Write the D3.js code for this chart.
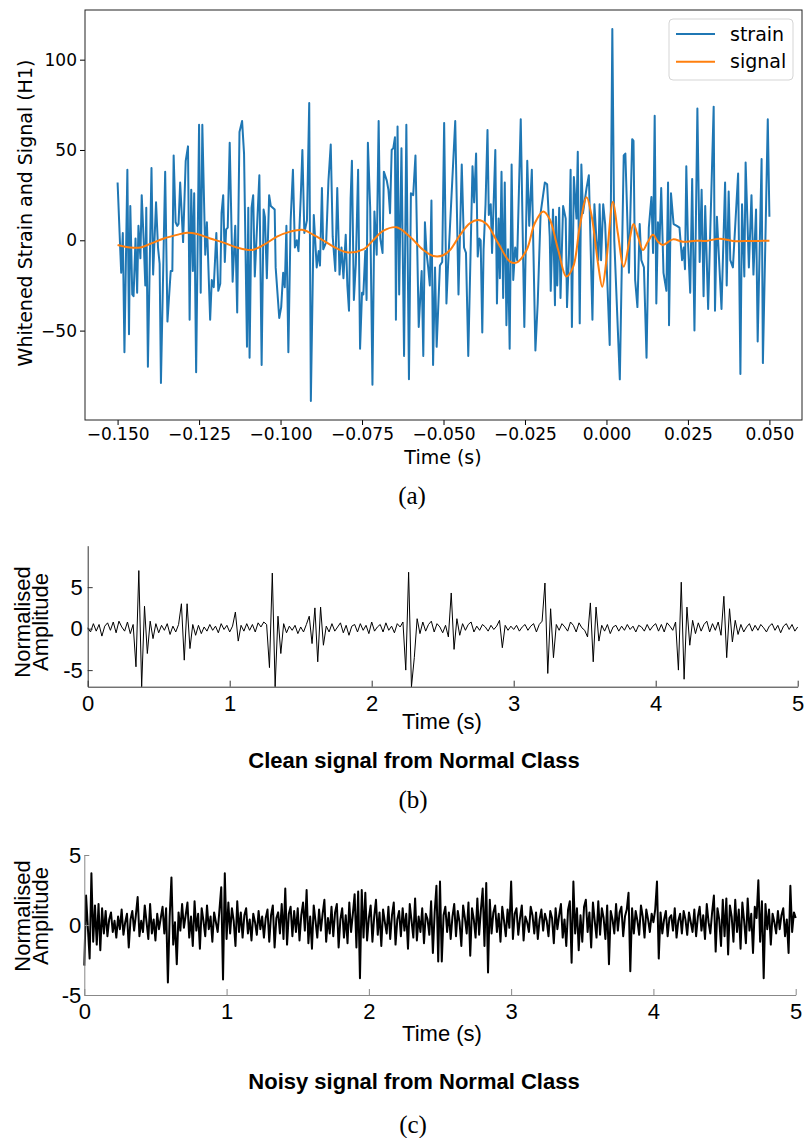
<!DOCTYPE html>
<html>
<head>
<meta charset="utf-8">
<script src="https://cdn.jsdelivr.net/npm/d3@7"></script>
<style>
  body { margin: 0; background: #fff; }
  svg { display: block; }
</style>
</head>
<body>
<svg id="fig" width="804" height="1138"></svg>
<script>
// ---- panel (a): whitened strain around the event (time in ms) ----
const strainMs = [
  -150.0,-148.9,-148.4,-147.9,-147.0,-146.5,-146.1,-145.5,-145.1,-144.5,-144.0,-143.6,-143.0,-142.6,-142.0,-141.5,-141.2,-140.7,
  -139.6,-139.1,-138.2,-137.6,-137.1,-136.7,-135.4,-134.7,-133.7,-133.2,-132.8,-132.2,-131.7,-131.3,-130.8,-129.9,-129.1,-128.4,
  -127.9,-127.4,-126.9,-126.5,-125.9,-125.0,-124.5,-124.0,-123.1,-122.6,-121.6,-121.1,-120.5,-119.7,-119.1,-118.5,-118.1,-117.6,
  -117.1,-116.7,-116.2,-115.6,-114.7,-113.9,-113.3,-112.6,-111.8,-111.2,-110.3,-109.9,-109.5,-108.9,-108.4,-107.9,-107.3,-106.5,
  -105.8,-105.2,-104.8,-104.2,-103.5,-103.0,-102.4,-101.8,-101.5,-100.4,-99.8,-99.2,-98.7,-98.2,-97.6,-96.9,-96.2,-95.6,-95.0,
  -94.5,-93.8,-93.3,-92.7,-91.9,-91.2,-90.7,-89.8,-88.9,-88.3,-87.9,-87.3,-86.9,-86.0,-85.3,-84.6,-84.0,-83.2,-82.6,-81.9,-81.3,
  -80.7,-80.0,-79.5,-79.0,-78.5,-78.1,-77.5,-76.9,-76.2,-75.6,-75.0,-74.6,-74.0,-73.6,-73.2,-72.5,-71.8,-71.2,-70.5,-69.9,-69.4,
  -68.7,-68.3,-67.4,-66.9,-66.4,-65.9,-65.4,-64.9,-64.6,-64.1,-63.6,-62.9,-62.1,-61.4,-60.6,-60.0,-59.3,-58.6,-57.6,-56.7,-56.2,
  -55.7,-55.2,-54.7,-54.2,-53.7,-53.2,-52.6,-52.1,-51.1,-50.4,-49.8,-49.1,-48.6,
  -46.4,-45.4,-44.4,-43.7,-43.1,-42.4,-41.1,-40.6,-40.0,-39.5,-39.0,-38.6,-38.1,-37.7,-37.1,-36.5,-36.1,-35.5,-35.1,-34.1,-33.6,
  -33.1,-32.7,-32.2,-31.7,-31.2,-30.7,-30.2,-29.7,-29.1,-28.6,-28.0,-27.4,-26.3,-25.2,-24.3,-23.7,-22.9,-21.8,-21.1,-20.2,-18.9,
  -18.2,-17.4,-17.1,-16.4,-15.8,-15.5,-15.1,-14.5,-14.1,-13.3,-12.5,-12.1,-11.5,-11.0,-10.6,-10.0,-9.2,-8.8,-8.2,-7.7,-7.2,-6.1,
  -5.4,-4.3,-3.7,-3.1,-2.5,-2.1,-1.65,-1.0,-0.4,1.0,1.8,2.4,4.1,5.3,5.8,6.9,7.9,8.3,8.8,9.5,10.2,10.7,11.5,12.3,13.0,13.8,14.3,
  14.8,15.3,15.8,16.3,16.8,17.5,18.4,18.9,19.2,19.8,20.6,21.6,22.4,23.2,23.7,24.1,24.5,25.0,25.7,26.3,27.0,27.9,28.6,29.2,29.8,
  30.3,31.2,32.9,33.3,33.9,35.3,36.4,36.9,37.5,38.0,38.8,40.4,41.1,41.6,42.3,42.7,43.7,44.5,45.1,45.9,46.4,47.6,48.0,48.7,49.5,50.0
];
const strainVal = [
  32,-18,4,-62,39,-52,19,-30,-31,1,-29,8,-10,25,0,-25,18,-70,
  40,-19,21,-4,-13,-79,38,-45,-17,-17,47,10,8,9,32,-1,44,52,
  -44,28,-17,26,-73,64,-29,64,-8,10,-44,-22,-26,4,-28,-24,15,25,
  -12,6,7,54,-23,8,-40,60,66,48,-59,18,-65,18,25,-20,4,36,
  -69,17,13,-21,25,19,18,17,-15,-43,-37,-18,-26,8,-62,11,39,-4,0,
  -6,24,50,4,11,76,-89,14,-15,-6,-14,29,-5,-1,33,53,2,-17,29,-19,-4,
  -21,3,-25,-39,23,44,-33,-13,39,-60,-29,-30,-6,-33,54,18,-80,16,-8,66,1,
  -7,38,33,28,15,50,51,57,-44,63,-30,51,-64,64,-77,26,25,47,-48,-17,-64,
  10,-7,-15,-25,22,-69,-15,-59,-14,-12,65,-35,-14,
  66,-30,42,-4,-7,-64,41,21,48,-9,1,0,-51,-5,20,61,14,20,-7,50,-35,
  12,-21,38,-32,32,-47,-5,-60,42,-22,-4,-11,67,-48,44,8,39,-61,-35,15,32,
  31,2,-28,17,-36,13,-25,18,-32,19,12,-37,-8,39,-48,35,12,49,-46,42,15,29,
  36,-44,20,1,-11,20,-11,20,9,-58,117,0,-77,47,48,-18,56,55,-22,-37,9,-11,-15,-65,7,24,-7,
  69,-35,10,-1,29,-18,-28,32,-47,26,9,8,7,-11,-4,-16,41,0,-29,34,-50,73,-12,28,-31,
  19,-38,74,-39,13,-38,32,-25,27,-11,-15,37,-74,20,-20,43,-15,25,-19,17,-56,45,-68,-6,67,13
];
// template signal (ms, value)
const signalMs = [
  -150,-146.1,-143,-140,-135.8,-131.8,-128.7,-125.6,-121.6,-117.5,-113.4,-108.8,-105.2,-101.1,-97,-93,-89.9,-86.8,
  -83.8,-79.7,-74.6,-71.5,-68.4,-64.4,-60.3,-56.2,-53.1,-50.1,-48.0,-44.9,-41.9,-39.3,-36.8,-33.2,-29.6,-27.6,-24.5,
  -22.0,-19.4,-17.4,-14.8,-12.3,-10.2,-8.2,-6.1,-4.6,-2.6,-1.3,0,2.0,3.5,5.3,7.1,8.3,9.7,11.2,12.7,14.3,15.8,17.3,
  20.4,23.5,27.5,30.6,34.7,38.8,43.9,50
];
const signalVal = [
  -2.6,-4,-4,-2,1,3,4.2,3.5,1,-1.3,-4,-5.4,-2.6,2,4.8,5.7,3,-0.2,
  -3.5,-6.6,-5,0.2,5.3,7.2,2,-5.4,-8.7,-8.3,-5.4,3,9.4,11.2,9,-1.7,-11.8,-12.4,-5.4,
  9.4,15.9,11.6,-5.4,-20,-14.6,7.5,23.8,14,-12.7,-25.7,-10.9,21.4,3.9,-14.6,0.2,9,2,-5.4,-0.8,3,-0.8,-2.6,
  0.5,-0.8,-0.2,-0.4,0.9,-0.4,-0.4,-0.2
];
const aTicksX = [-0.15, -0.125, -0.1, -0.075, -0.05, -0.025, 0, 0.025, 0.05];
const aTicksY = [-50, 0, 50, 100];
const legendNames = ["strain", "signal"];
const legendColors = ["#1f77b4", "#ff7f0e"];

// ---- panel (b): clean signal, 251 samples over 0..5 s ----
const cleanVal = [
  0.1,-0.4,0.6,-0.3,0.5,-0.9,0.3,0.7,-0.2,0.8,-0.5,0.9,0.2,-0.3,0.8,-0.6,0.5,-4.6,7.0,-7.0,
  2.7,-3.0,0.9,-1.2,0.6,-0.5,0.4,-0.2,0.6,-0.7,0.3,-0.4,0.5,3.0,-3.8,3.0,-2.4,0.5,-0.8,0.4,
  -0.6,0.2,-0.3,0.5,-0.2,0.3,-0.5,0.6,-0.1,0.4,-0.4,0.3,2.0,-1.5,0.4,-0.3,0.6,-0.2,0.5,-0.4,
  0.7,0.2,0.8,0.5,-4.7,6.7,-7.0,1.5,-3.0,0.6,-0.5,0.3,-0.2,0.4,-0.6,0.2,-0.4,0.5,1.5,-1.8,
  2.5,-4.0,2.6,-2.0,0.3,-0.4,0.6,-0.3,0.2,0.7,-0.5,0.4,-0.8,0.3,0.5,-0.4,0.6,-0.2,0.4,-0.6,
  0.8,-0.3,0.2,0.5,-0.4,0.7,-0.2,0.3,-0.5,0.6,0.2,0.8,-5.0,6.8,-7.0,-3.5,1.2,-0.6,0.8,-0.3,
  0.5,0.9,-0.4,0.6,0.2,-0.5,0.4,-1.0,4.3,-2.5,1.2,-0.8,0.6,-0.2,0.5,0.8,-0.4,0.3,-0.2,0.5,
  0.2,-0.3,0.4,-0.1,0.3,1.0,-2.3,0.4,-0.2,0.3,-0.1,0.4,-0.3,0.2,0.5,-0.2,0.3,0.6,-0.4,0.5,
  0.9,5.5,-5.4,2.4,-3.5,0.5,-0.2,0.6,0.2,-0.3,0.8,0.4,-0.4,0.7,0.1,-0.2,-1.0,3.1,-4.0,2.6,
  -1.5,0.4,-0.3,0.5,-0.6,0.2,0.4,-0.3,0.3,-0.2,0.5,-0.1,0.3,-0.4,0.4,0.2,-0.3,0.5,-0.2,0.3,
  0.6,-0.3,0.5,-0.4,0.7,0.3,-0.2,0.8,-5.0,5.6,-6.1,2.6,-2.0,1.0,-0.6,0.7,-0.3,0.5,0.9,-0.4,
  0.6,-0.2,0.8,-0.8,3.9,-3.5,2.4,-1.6,1.0,-0.7,0.5,-0.4,0.2,0.6,-0.3,0.4,-0.2,0.5,0.1,-0.4,
  0.3,0.6,-0.2,0.4,-0.5,0.3,0.6,-0.1,0.5,-0.3,0.2
];

// ---- panel (c): noisy signal, 401 samples over 0..5 s ----
const noisyVal = [
  -2.9,2.1,-0.2,-2.4,3.7,-1.2,1.4,-1.4,1.5,-1.8,1.2,-0.6,1.0,-0.8,0.4,0.9,-0.5,0.3,-0.9,0.6,
  -0.3,1.1,-0.7,0.2,0.8,-1.6,0.4,1.0,-0.4,0.7,2.0,-0.8,0.3,-0.5,1.4,0.2,-1.0,1.5,-0.6,0.4,
  -1.1,0.8,-0.3,0.5,1.3,-0.6,1.2,-4.1,0.6,3.4,-1.4,0.2,-2.8,0.9,-0.4,1.5,-0.2,0.7,1.6,-0.9,
  0.6,-1.5,1.7,-0.4,0.8,-1.7,1.2,0.3,-0.8,1.4,-0.3,0.6,-1.2,0.9,0.2,-0.5,1.1,2.7,-3.9,3.7,
  -1.0,1.6,-0.6,1.2,0.3,-1.5,1.7,-0.5,0.9,-0.9,0.7,1.2,-0.6,0.4,-1.1,0.8,0.2,-0.7,1.0,-0.3,
  0.6,-0.9,0.5,1.1,-1.2,0.7,1.4,-1.6,0.5,0.9,-0.6,1.5,-1.0,2.6,-1.4,0.8,1.3,-0.8,1.0,-0.5,
  1.2,-1.1,0.7,1.6,-0.4,2.5,-1.3,0.6,-1.7,1.4,0.3,-0.9,1.1,-0.4,0.8,1.8,-1.2,0.5,-0.6,1.3,
  -0.8,0.9,1.5,-1.6,0.4,1.2,-0.9,0.7,-1.3,1.6,-0.5,0.8,2.2,-1.6,2.4,-3.8,2.5,-0.9,2.3,-1.1,
  0.5,1.4,-1.2,0.6,1.8,-0.7,0.9,-1.5,1.1,0.2,-0.6,1.3,-1.0,0.7,1.6,-1.4,0.4,1.0,-0.8,1.2,
  -0.4,0.8,-1.7,1.5,0.3,-0.9,1.9,-1.1,0.6,-0.5,1.2,-1.3,0.8,0.4,-0.7,1.7,-2.0,0.9,2.8,-2.6,
  3.1,-2.6,0.7,1.3,-0.5,0.9,-1.0,0.6,1.5,-0.8,1.0,0.2,-1.5,1.4,0.5,-0.6,1.6,-2.2,1.2,0.4,
  -0.9,1.9,-0.7,1.1,2.6,-1.5,3.0,-3.4,1.8,-0.6,0.9,1.4,-0.5,0.8,-1.2,1.3,0.3,-0.8,1.1,-0.2,
  3.1,-1.0,0.8,1.2,-0.7,0.5,1.4,-1.1,0.6,0.2,-0.5,1.3,0.7,-0.6,0.9,-1.0,0.4,1.1,-0.4,0.8,
  0.3,-0.8,1.0,0.5,-1.3,1.2,-0.3,0.7,1.5,-0.9,0.4,-1.5,1.1,1.7,-2.7,3.1,-0.6,1.2,-1.8,0.7,
  -1.2,1.3,1.8,-0.5,0.9,-1.6,1.6,0.3,-0.9,1.7,-0.7,1.2,0.5,-1.0,1.4,-2.8,1.0,0.4,-0.6,1.5,
  -0.4,0.9,1.3,-0.8,0.6,1.1,2.3,-3.3,1.2,-0.6,1.0,0.3,-0.7,1.4,0.6,-0.9,1.1,0.4,-0.5,0.8,
  0.2,1.1,3.1,-2.4,0.9,-0.6,0.4,1.0,-0.8,0.5,0.7,-0.4,1.2,-0.9,0.3,0.8,-0.6,1.0,0.4,-0.7,
  0.9,0.2,-0.5,1.1,-0.8,0.6,1.3,-0.4,0.7,-1.0,1.5,0.2,-0.6,0.9,2.1,-1.9,1.2,0.4,-1.5,1.8,
  -0.8,1.9,-2.1,1.4,0.6,-1.2,1.8,-0.5,1.1,-1.7,1.6,0.3,-1.3,1.9,-0.4,0.8,-2.0,1.3,0.5,3.2,
  -1.2,1.7,-3.8,1.5,-0.3,1.1,-1.4,0.8,0.2,-0.6,1.0,-0.3,0.7,1.2,-0.8,0.4,-2.0,2.8,-0.5,0.9,
  0.5
];
const timeTicks = [0, 1, 2, 3, 4, 5];

const svg = d3.select("#fig");
svg.append("rect").attr("width", 804).attr("height", 1138).attr("fill", "#fff");

// ================= panel (a) =================
const xA = d3.scaleLinear().domain([-0.16, 0.06]).range([85, 802]);
const yA = d3.scaleLinear().domain([-99.5, 127.5]).range([420, 10]);
const gA = svg.append("g").attr("font-family", "DejaVu Sans");

const lineStrain = d3.line().x((d, i) => xA(strainMs[i] / 1000)).y(d => yA(d));
gA.append("path").datum(strainVal)
  .attr("d", lineStrain)
  .attr("fill", "none").attr("stroke", legendColors[0]).attr("stroke-width", 2).attr("stroke-linejoin", "round");

const lineSignal = d3.line().curve(d3.curveCatmullRom.alpha(0.5))
  .x((d, i) => xA(signalMs[i] / 1000)).y(d => yA(d));
gA.append("path").datum(signalVal)
  .attr("d", lineSignal)
  .attr("fill", "none").attr("stroke", legendColors[1]).attr("stroke-width", 2);

const axA = gA.append("g").attr("transform", "translate(0,420)")
  .call(d3.axisBottom(xA).tickValues(aTicksX).tickFormat(d3.format(".3f")).tickSize(5).tickPadding(3).tickSizeOuter(0));
const ayA = gA.append("g").attr("transform", "translate(85,0)")
  .call(d3.axisLeft(yA).tickValues(aTicksY).tickFormat(d3.format("d")).tickSize(5).tickPadding(3).tickSizeOuter(0));
[axA, ayA].forEach(ax => {
  ax.select(".domain").remove();
  ax.selectAll("text").attr("font-size", 17).attr("font-family", "DejaVu Sans").attr("fill", "#000");
  ax.selectAll("line").attr("stroke", "#000");
});

gA.append("rect").attr("x", 85).attr("y", 10).attr("width", 717).attr("height", 410)
  .attr("fill", "none").attr("stroke", "#222").attr("stroke-width", 1);

gA.append("text").attr("x", 443).attr("y", 464).attr("text-anchor", "middle")
  .attr("font-size", 19).text("Time (s)");
gA.append("text").attr("transform", "translate(32,213) rotate(-90)").attr("text-anchor", "middle")
  .attr("font-size", 19).text("Whitened Strain and Signal (H1)");

// legend
const leg = gA.append("g");
leg.append("rect").attr("x", 669).attr("y", 19).attr("width", 124).attr("height", 61).attr("rx", 4)
  .attr("fill", "#fff").attr("fill-opacity", 0.8).attr("stroke", "#d5d5d5");
legendNames.forEach((name, i) => {
  const ly = 34 + i * 27.7;
  leg.append("line").attr("x1", 676).attr("x2", 715).attr("y1", ly).attr("y2", ly)
    .attr("stroke", legendColors[i]).attr("stroke-width", 2);
  leg.append("text").attr("x", 730).attr("y", ly + 6.5).attr("font-size", 19).text(name);
});

svg.append("text").attr("x", 412).attr("y", 504).attr("text-anchor", "middle")
  .attr("font-family", "Liberation Serif").attr("font-size", 25).text("(a)");

// ================= panels (b) and (c) =================
function drawSignal(opts) {
  const g = svg.append("g").attr("font-family", "Liberation Sans");
  const x = d3.scaleLinear().domain([0, 5]).range([opts.left, opts.right]);
  const y = d3.scaleLinear().domain(opts.yDomain).range([opts.bottom, opts.top]);
  const n = opts.values.length;
  const line = d3.line().x((d, i) => x(i * 5 / (n - 1))).y(d => y(d));
  g.append("path").datum(opts.values).attr("d", line)
    .attr("fill", "none").attr("stroke", "#000").attr("stroke-width", opts.lw).attr("stroke-linejoin", "round");

  const ax = g.append("g").attr("transform", `translate(0,${opts.bottom})`)
    .call(d3.axisBottom(x).tickValues(timeTicks).tickFormat(d => String(d)).tickSize(-6).tickPadding(opts.xPad).tickSizeOuter(0));
  const ay = g.append("g").attr("transform", `translate(${opts.left},0)`)
    .call(d3.axisLeft(y).tickValues([-5, 0, 5]).tickFormat(d => String(d)).tickSize(-5).tickPadding(opts.yPad).tickSizeOuter(0));
  [ax, ay].forEach(a => {
    a.select(".domain").attr("stroke", opts.axisColor);
    a.selectAll("line").attr("stroke", opts.axisColor);
    a.selectAll("text").attr("font-size", 22).attr("font-family", "Liberation Sans").attr("fill", "#000");
  });

  const lab = g.append("text").attr("transform", `translate(0,${opts.labelY}) rotate(-90)`)
    .attr("text-anchor", "middle").attr("font-size", 22);
  lab.append("tspan").attr("x", 0).attr("y", 30).text("Normalised");
  lab.append("tspan").attr("x", 0).attr("y", 47.5).text("Amplitude");

  g.append("text").attr("x", 442).attr("y", opts.timeY).attr("text-anchor", "middle")
    .attr("font-size", 22).text("Time (s)");
  g.append("text").attr("x", 414).attr("y", opts.titleY).attr("text-anchor", "middle")
    .attr("font-size", 22).attr("font-weight", "bold").text(opts.title);
  svg.append("text").attr("x", 413).attr("y", opts.capY).attr("text-anchor", "middle")
    .attr("font-family", "Liberation Serif").attr("font-size", 25).text(opts.caption);
}

drawSignal({
  values: cleanVal, left: 87.7, right: 797.7, top: 545.7, bottom: 686.7, yDomain: [-7, 10],
  lw: 1, axisColor: "#333", xPad: 9, yPad: 5, labelY: 622,
  timeY: 729, titleY: 768, capY: 808,
  title: "Clean signal from Normal Class", caption: "(b)"
});
drawSignal({
  values: noisyVal, left: 84.3, right: 795.7, top: 855, bottom: 995, yDomain: [-5, 5],
  lw: 2, axisColor: "#888", xPad: 8, yPad: 3, labelY: 916,
  timeY: 1041, titleY: 1089, capY: 1133,
  title: "Noisy signal from Normal Class", caption: "(c)"
});
</script>
</body>
</html>
